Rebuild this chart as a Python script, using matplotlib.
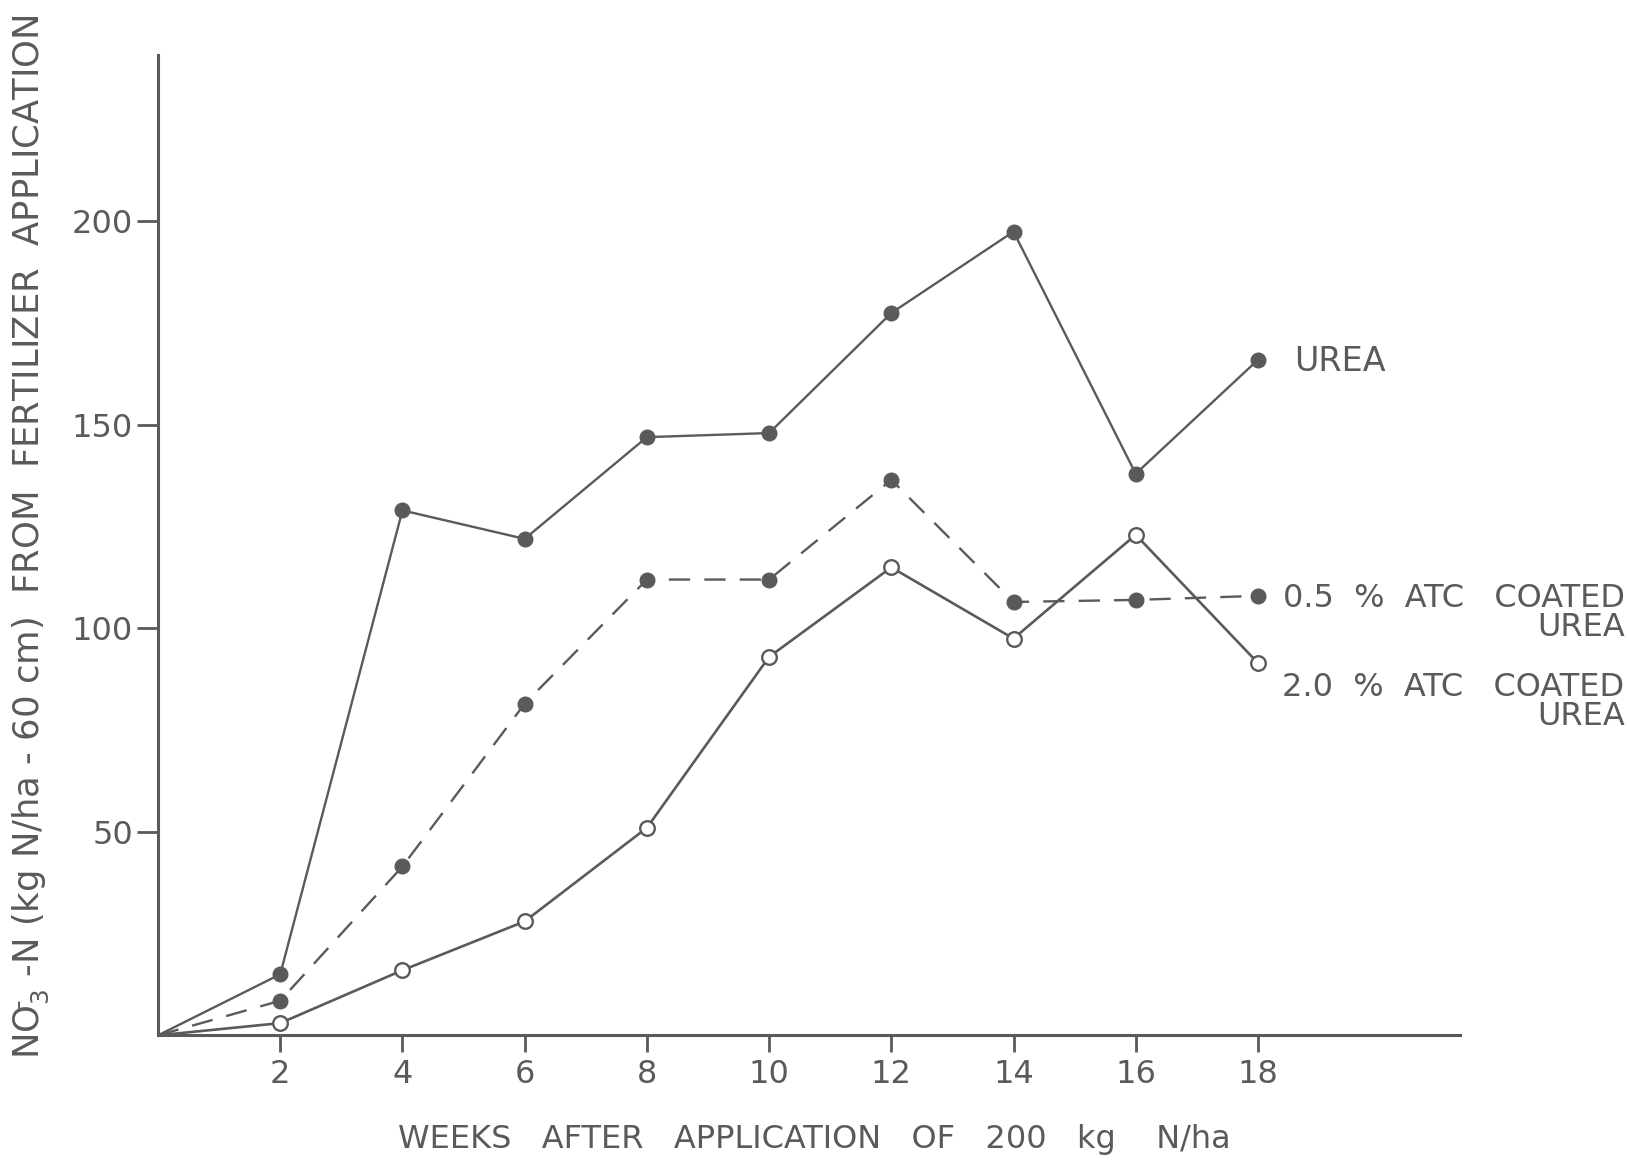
import matplotlib.pyplot as plt

# weeks after application (0 = start, no marker drawn there)
weeks = [0, 2, 4, 6, 8, 10, 12, 14, 16, 18]

urea = [0, 15, 129, 122, 147, 148, 177.5, 197.5, 138, 166]
atc_05 = [0, 8.5, 41.5, 81.5, 112, 112, 136.5, 106.5, 107, 108]
atc_20 = [0, 3, 16, 28, 51, 93, 115, 97.5, 123, 91.5]

x_ticks = [2, 4, 6, 8, 10, 12, 14, 16, 18]
y_ticks = [50, 100, 150, 200]

ink = "#5a5a5a"

fig = plt.figure(figsize=(16.29, 11.62), dpi=100)
ax = fig.add_axes([0.097, 0.109, 0.799, 0.844])

ax.plot(weeks, urea, color=ink, lw=1.7, marker="o", ms=10.5,
        mfc=ink, mec=ink, markevery=slice(1, None))
ax.plot(weeks, atc_05, color=ink, lw=1.7, ls=(0, (9, 6)), marker="o", ms=10.5,
        mfc=ink, mec=ink, markevery=slice(1, None))
ax.plot(weeks, atc_20, color=ink, lw=1.9, marker="o", ms=10.5,
        mfc="white", mec=ink, mew=1.7, markevery=slice(1, None))

ax.set_xlim(0, 21.3)
ax.set_ylim(0, 241)
ax.set_xticks(x_ticks)
ax.set_yticks(y_ticks)
ax.tick_params(axis="x", length=12, width=2, color=ink, labelcolor=ink,
               labelsize=23, pad=5)
ax.tick_params(axis="y", length=15, width=2, color=ink, labelcolor=ink,
               labelsize=23, pad=3)

for side in ["top", "right"]:
    ax.spines[side].set_visible(False)
for side in ["left", "bottom"]:
    ax.spines[side].set_color(ink)
    ax.spines[side].set_linewidth(2.2)

# axis titles
fig.text(0.5, 0.019, "WEEKS   AFTER   APPLICATION   OF   200   kg    N/ha",
         fontsize=23, color=ink, ha="center", va="center")
fig.text(0.019, 0.538,
         r"NO$_3^{\bar{}}$ -N (kg N/ha - 60 cm)  FROM  FERTILIZER  APPLICATION",
         fontsize=25.5, color=ink, ha="center", va="center", rotation=90)

# line labels
ax.text(18.6, 165.5, "UREA", fontsize=24, color=ink, va="center", ha="left")
ax.text(24.0, 103.8, "0.5  %  ATC   COATED\nUREA", fontsize=23, color=ink,
        va="center", ha="right", multialignment="right", linespacing=0.95)
ax.text(24.0, 81.9, "2.0  %  ATC   COATED\nUREA", fontsize=23, color=ink,
        va="center", ha="right", multialignment="right", linespacing=0.95)

fig.savefig("out.png", dpi=100)
